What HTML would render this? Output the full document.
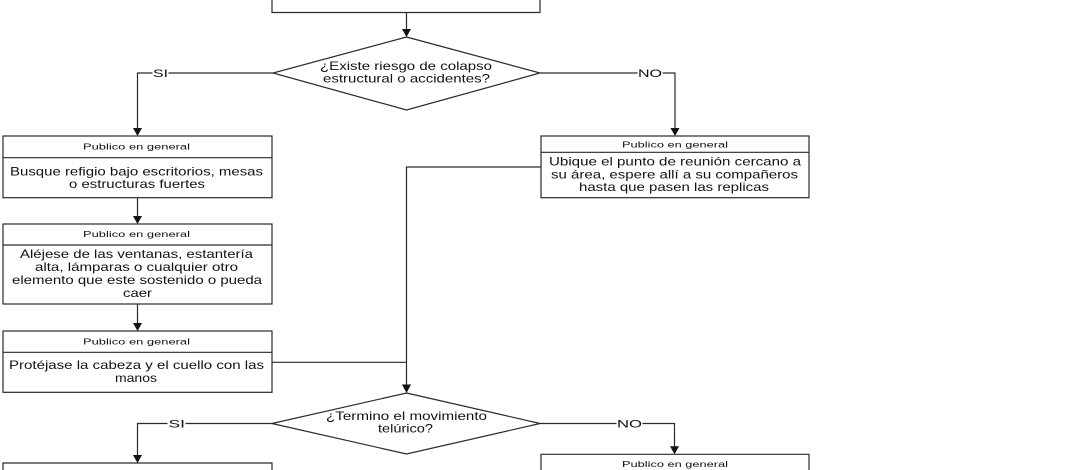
<!DOCTYPE html>
<html>
<head>
<meta charset="utf-8">
<style>
  html, body { margin: 0; padding: 0; background: #ffffff; }
  body { width: 1070px; height: 470px; overflow: hidden; }
  svg { display: block; }
  text { font-family: "Liberation Sans", Arial, sans-serif; fill: #111; }
  .h { font-size: 8px; }
  .b { font-size: 11.6px; }
  .l { font-size: 11px; }
</style>
</head>
<body>
<svg width="1070" height="470" viewBox="0 0 1070 470" xmlns="http://www.w3.org/2000/svg">
  <g fill="none" stroke="#2a2a2a" stroke-width="1.2">
    <!-- top box (partially visible) -->
    <polyline points="272,0 272,12.5 540,12.5 540,0"/>
    <!-- top arrow -->
    <line x1="406.5" y1="12.5" x2="406.5" y2="30"/>
    <!-- diamond 1 -->
    <polygon points="406.5,37 540,73 406.5,110 273,73" fill="#fff"/>
    <!-- SI 1 -->
    <polyline points="273,73 168.5,73"/>
    <polyline points="152.5,73 137.5,73 137.5,129"/>
    <!-- NO 1 -->
    <polyline points="540,73 637.5,73"/>
    <polyline points="662.5,73 675,73 675,129"/>
    <!-- box 1 left -->
    <rect x="3" y="136" width="269" height="61.7" fill="#fff"/>
    <line x1="3" y1="157.7" x2="272" y2="157.7"/>
    <!-- right box 1 -->
    <rect x="541" y="136" width="268" height="61.7" fill="#fff"/>
    <line x1="541" y1="152.3" x2="809" y2="152.3"/>
    <!-- connector right box to diamond 2 -->
    <polyline points="541,167 406.5,167 406.5,385"/>
    <!-- box1 -> box2 -->
    <line x1="137.5" y1="197.7" x2="137.5" y2="217"/>
    <!-- box 2 -->
    <rect x="3" y="224" width="269" height="80" fill="#fff"/>
    <line x1="3" y1="245" x2="272" y2="245"/>
    <!-- box2 -> box3 -->
    <line x1="137.5" y1="304" x2="137.5" y2="324"/>
    <!-- box 3 -->
    <rect x="3" y="331" width="269" height="61.3" fill="#fff"/>
    <line x1="3" y1="352.3" x2="272" y2="352.3"/>
    <!-- box3 connector -->
    <line x1="272" y1="362.3" x2="406.5" y2="362.3"/>
    <!-- diamond 2 -->
    <polygon points="406.5,393 540,423.5 406.5,454 272,423.5" fill="#fff"/>
    <!-- SI 2 -->
    <polyline points="272,423.5 185.5,423.5"/>
    <polyline points="167.5,423.5 137.5,423.5 137.5,456"/>
    <!-- NO 2 -->
    <polyline points="540,423.5 616.5,423.5"/>
    <polyline points="642.5,423.5 674.5,423.5 674.5,447"/>
    <!-- bottom boxes (partially visible) -->
    <polyline points="3,470 3,463 272,463 272,470"/>
    <polyline points="541,470 541,454.3 809,454.3 809,470"/>
  </g>
  <!-- arrowheads -->
  <g fill="#111" stroke="none">
    <polygon points="402,29 411,29 406.5,37"/>
    <polygon points="133,128 142,128 137.5,136"/>
    <polygon points="670.5,128 679.5,128 675,136"/>
    <polygon points="133,216 142,216 137.5,224"/>
    <polygon points="133,323 142,323 137.5,331"/>
    <polygon points="402,384.5 411,384.5 406.5,393"/>
    <polygon points="133,455 142,455 137.5,463"/>
    <polygon points="670,446.3 679,446.3 674.5,454.3"/>
  </g>

  <!-- labels -->
  <text class="l" x="153" y="77" textLength="15" lengthAdjust="spacingAndGlyphs">SI</text>
  <text class="l" x="638" y="77" textLength="24" lengthAdjust="spacingAndGlyphs">NO</text>
  <text class="l" x="168.5" y="427.5" textLength="16.5" lengthAdjust="spacingAndGlyphs">SI</text>
  <text class="l" x="617" y="427.5" textLength="25" lengthAdjust="spacingAndGlyphs">NO</text>

  <!-- diamond 1 text -->
  <text class="b" x="320" y="70" textLength="172" lengthAdjust="spacingAndGlyphs">¿Existe riesgo de colapso</text>
  <text class="b" x="323" y="82.7" textLength="167" lengthAdjust="spacingAndGlyphs">estructural o accidentes?</text>

  <!-- box 1 -->
  <text class="h" x="83" y="149.5" textLength="107" lengthAdjust="spacingAndGlyphs">Publico en general</text>
  <text class="b" x="10" y="175.3" textLength="253" lengthAdjust="spacingAndGlyphs">Busque refigio bajo escritorios, mesas</text>
  <text class="b" x="69" y="188" textLength="136" lengthAdjust="spacingAndGlyphs">o estructuras fuertes</text>

  <!-- right box 1 -->
  <text class="h" x="622" y="147.3" textLength="106" lengthAdjust="spacingAndGlyphs">Publico en general</text>
  <text class="b" x="549" y="165.7" textLength="252" lengthAdjust="spacingAndGlyphs">Ubique el punto de reunión cercano a</text>
  <text class="b" x="551" y="178.4" textLength="247" lengthAdjust="spacingAndGlyphs">su área, espere allí a su compañeros</text>
  <text class="b" x="579" y="191.1" textLength="190" lengthAdjust="spacingAndGlyphs">hasta que pasen las replicas</text>

  <!-- box 2 -->
  <text class="h" x="83" y="237" textLength="107" lengthAdjust="spacingAndGlyphs">Publico en general</text>
  <text class="b" x="20" y="258" textLength="233" lengthAdjust="spacingAndGlyphs">Aléjese de las ventanas, estantería</text>
  <text class="b" x="35" y="271" textLength="203" lengthAdjust="spacingAndGlyphs">alta, lámparas o cualquier otro</text>
  <text class="b" x="12" y="284" textLength="250" lengthAdjust="spacingAndGlyphs">elemento que este sostenido o pueda</text>
  <text class="b" x="123" y="297" textLength="29" lengthAdjust="spacingAndGlyphs">caer</text>

  <!-- box 3 -->
  <text class="h" x="83" y="344.3" textLength="107" lengthAdjust="spacingAndGlyphs">Publico en general</text>
  <text class="b" x="9" y="369" textLength="255" lengthAdjust="spacingAndGlyphs">Protéjase la cabeza y el cuello con las</text>
  <text class="b" x="115" y="382" textLength="42" lengthAdjust="spacingAndGlyphs">manos</text>

  <!-- diamond 2 text -->
  <text class="b" x="326" y="420" textLength="161" lengthAdjust="spacingAndGlyphs">¿Termino el movimiento</text>
  <text class="b" x="378" y="432.7" textLength="55" lengthAdjust="spacingAndGlyphs">telúrico?</text>

  <!-- bottom right header -->
  <text class="h" x="622" y="467" textLength="106" lengthAdjust="spacingAndGlyphs">Publico en general</text>
</svg>
</body>
</html>
